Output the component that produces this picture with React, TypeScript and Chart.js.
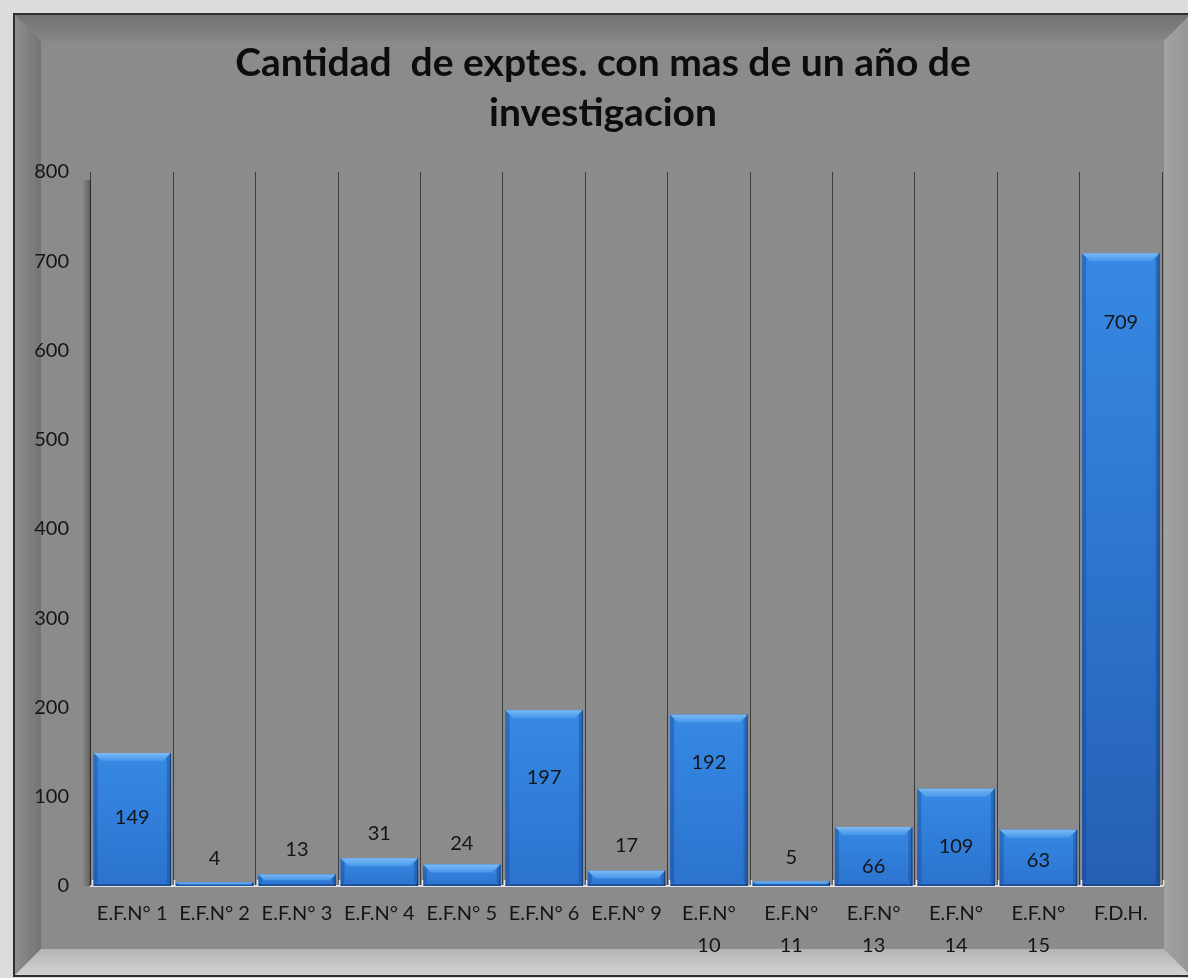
import React, { useEffect, useRef } from "react";
import { Chart, registerables } from "chart.js";

Chart.register(...registerables);

const titleLines = ["Cantidad  de exptes. con mas de un año de", "investigacion"];
const categories: (string | string[])[] = [
  "E.F.N° 1",
  "E.F.N° 2",
  "E.F.N° 3",
  "E.F.N° 4",
  "E.F.N° 5",
  "E.F.N° 6",
  "E.F.N° 9",
  ["E.F.N°", "10"],
  ["E.F.N°", "11"],
  ["E.F.N°", "13"],
  ["E.F.N°", "14"],
  ["E.F.N°", "15"],
  "F.D.H.",
];
const values = [149, 4, 13, 31, 24, 197, 17, 192, 5, 66, 109, 63, 709];
// where each data label sits, in axis units
const labelAnchors = [77, 31, 41, 59, 48, 122, 45, 138, 32, 22, 44, 28, 631];
const yMin = 0;
const yMax = 800;
const yStep = 100;

const FONT = "Lato, 'Open Sans', sans-serif";
const W = 1188;
const H = 978;

const framePlugin = {
  id: "frame",
  afterLayout(chart: any) {
    const tb = chart.titleBlock;
    if (tb) {
      tb.left += 8;
      tb.right += 8;
    }
  },
  beforeDraw(chart: any) {
    const c = chart.ctx;
    c.save();
    c.fillStyle = "#dcdcdc";
    c.fillRect(0, 0, W, H);
    const L = 15, T = 15, R = W + 2, B = 975, bv = 26;
    c.fillStyle = "#2e2e2e";
    c.fillRect(L - 2, T - 2, R - L + 4, B - T + 4);
    c.fillStyle = "#8b8b8b";
    c.fillRect(L, T, R - L, B - T);
    let g = c.createLinearGradient(0, T, 0, T + bv);
    g.addColorStop(0, "#737373");
    g.addColorStop(1, "#868686");
    c.fillStyle = g;
    c.beginPath();
    c.moveTo(L, T); c.lineTo(R, T); c.lineTo(R - bv, T + bv); c.lineTo(L + bv, T + bv); c.closePath();
    c.fill();
    g = c.createLinearGradient(L, 0, L + bv, 0);
    g.addColorStop(0, "#8e8e8e");
    g.addColorStop(1, "#747474");
    c.fillStyle = g;
    c.beginPath();
    c.moveTo(L, T); c.lineTo(L + bv, T + bv); c.lineTo(L + bv, B - bv); c.lineTo(L, B); c.closePath();
    c.fill();
    g = c.createLinearGradient(R - bv, 0, R, 0);
    g.addColorStop(0, "#a2a2a2");
    g.addColorStop(1, "#959595");
    c.fillStyle = g;
    c.beginPath();
    c.moveTo(R, T); c.lineTo(R, B); c.lineTo(R - bv, B - bv); c.lineTo(R - bv, T + bv); c.closePath();
    c.fill();
    g = c.createLinearGradient(0, B - bv, 0, B);
    g.addColorStop(0, "#b4b4b4");
    g.addColorStop(1, "#d2d2d2");
    c.fillStyle = g;
    c.beginPath();
    c.moveTo(L, B); c.lineTo(L + bv, B - bv); c.lineTo(R - bv, B - bv); c.lineTo(R, B); c.closePath();
    c.fill();
    c.restore();
  },
  beforeDatasetsDraw(chart: any) {
    const c = chart.ctx;
    const a = chart.chartArea;
    c.save();
    const g = c.createLinearGradient(a.left - 9, 0, a.left, 0);
    g.addColorStop(0, "rgba(0,0,0,0)");
    g.addColorStop(1, "rgba(0,0,0,0.35)");
    c.fillStyle = g;
    c.fillRect(a.left - 9, a.top + 8, 9, a.bottom - a.top - 8);
    c.restore();
  },
};

const barStylePlugin = {
  id: "barStyle",
  afterDatasetsDraw(chart: any) {
    const c = chart.ctx;
    const meta = chart.getDatasetMeta(0);
    const yScale = chart.scales.y;
    c.save();
    meta.data.forEach((bar: any) => {
      const { x, y, base, width } = bar.getProps(["x", "y", "base", "width"], true);
      const l = x - width / 2;
      const r = x + width / 2;
      const h = base - y;
      if (h <= 0) return;
      const g = c.createLinearGradient(0, y, 0, base);
      g.addColorStop(0, "#3689e4");
      g.addColorStop(1, h > 200 ? "#255fb4" : "#2b73cf");
      c.fillStyle = g;
      c.fillRect(l, y, width, h);
      const bv = Math.min(8, h / 2);
      const tg = c.createLinearGradient(0, y, 0, y + bv);
      tg.addColorStop(0, "#7bbaf5");
      tg.addColorStop(1, "#4596ea");
      c.fillStyle = tg;
      c.beginPath();
      c.moveTo(l, y); c.lineTo(r, y); c.lineTo(r - bv, y + bv); c.lineTo(l + bv, y + bv); c.closePath();
      c.fill();
      const sb = Math.min(4, width / 4);
      c.fillStyle = "rgba(20,60,130,0.35)";
      c.beginPath();
      c.moveTo(l, y); c.lineTo(l + sb, y + Math.min(sb, bv)); c.lineTo(l + sb, base - Math.min(sb, h / 2)); c.lineTo(l, base); c.closePath();
      c.fill();
      c.beginPath();
      c.moveTo(r, y); c.lineTo(r - sb, y + Math.min(sb, bv)); c.lineTo(r - sb, base - Math.min(sb, h / 2)); c.lineTo(r, base); c.closePath();
      c.fill();
      c.fillStyle = "rgba(15,45,100,0.5)";
      c.fillRect(l, base - Math.min(2, h / 3), width, Math.min(2, h / 3));
      c.fillStyle = "rgba(10,35,80,0.6)";
      c.fillRect(r - 1, y, 1, h);
    });
    const a = chart.chartArea;
    c.strokeStyle = "#e6e6e6";
    c.lineWidth = 1.5;
    for (let i = 0; i <= values.length; i++) {
      const px = Math.round(a.left + (i * (a.right - a.left)) / values.length) + 1.5;
      c.beginPath();
      c.moveTo(px, a.bottom);
      c.lineTo(px, a.bottom - 6);
      c.stroke();
    }
    c.fillStyle = "#151515";
    c.font = `20px ${FONT}`;
    c.textAlign = "center";
    c.textBaseline = "middle";
    meta.data.forEach((bar: any, i: number) => {
      const py = yScale.getPixelForValue(labelAnchors[i]);
      c.fillText(String(values[i]), bar.x, py);
    });
    c.restore();
  },
};

export default function App() {
  const ref = useRef<HTMLCanvasElement | null>(null);
  useEffect(() => {
    if (!ref.current) return;
    const chart = new Chart(ref.current, {
      type: "bar",
      data: {
        labels: categories,
        datasets: [
          {
            data: values,
            backgroundColor: "#2f7fdb",
            borderWidth: 0,
            barPercentage: 0.94,
            categoryPercentage: 1,
          },
        ],
      },
      options: {
        responsive: false,
        animation: false,
        devicePixelRatio: 1,
        layout: { padding: { left: 28, right: 26, top: 0, bottom: 0 } },
        plugins: {
          legend: { display: false },
          tooltip: { enabled: false },
          title: {
            display: true,
            text: titleLines,
            color: "#0d0d0d",
            font: { family: FONT, size: 39, weight: "bold", lineHeight: 1.282 },
            padding: { top: 38, bottom: 34 },
          },
        },
        scales: {
          x: {
            grid: {
              display: true,
              offset: true,
              color: "#3c3c3c",
              lineWidth: 1,
              drawTicks: false,
            },
            border: { display: true, color: "#e2e2e2", width: 2 },
            ticks: {
              color: "#151515",
              font: { family: FONT, size: 20, lineHeight: 1.6 },
              padding: 12,
              maxRotation: 0,
              minRotation: 0,
              autoSkip: false,
            },
            afterFit: (s: any) => {
              s.height = 92;
            },
          },
          y: {
            min: yMin,
            max: yMax,
            grid: { display: false, drawTicks: false },
            border: { display: false },
            ticks: {
              stepSize: yStep,
              color: "#151515",
              font: { family: FONT, size: 20 },
              padding: 22,
            },
            afterFit: (s: any) => {
              s.width = 63;
            },
          },
        },
      },
      plugins: [framePlugin, barStylePlugin],
    });
    return () => chart.destroy();
  }, []);
  return (
    <div style={{ position: "absolute", left: 0, top: 0, width: W, height: H }}>
      <canvas ref={ref} width={W} height={H} style={{ display: "block", width: W, height: H }} />
    </div>
  );
}
